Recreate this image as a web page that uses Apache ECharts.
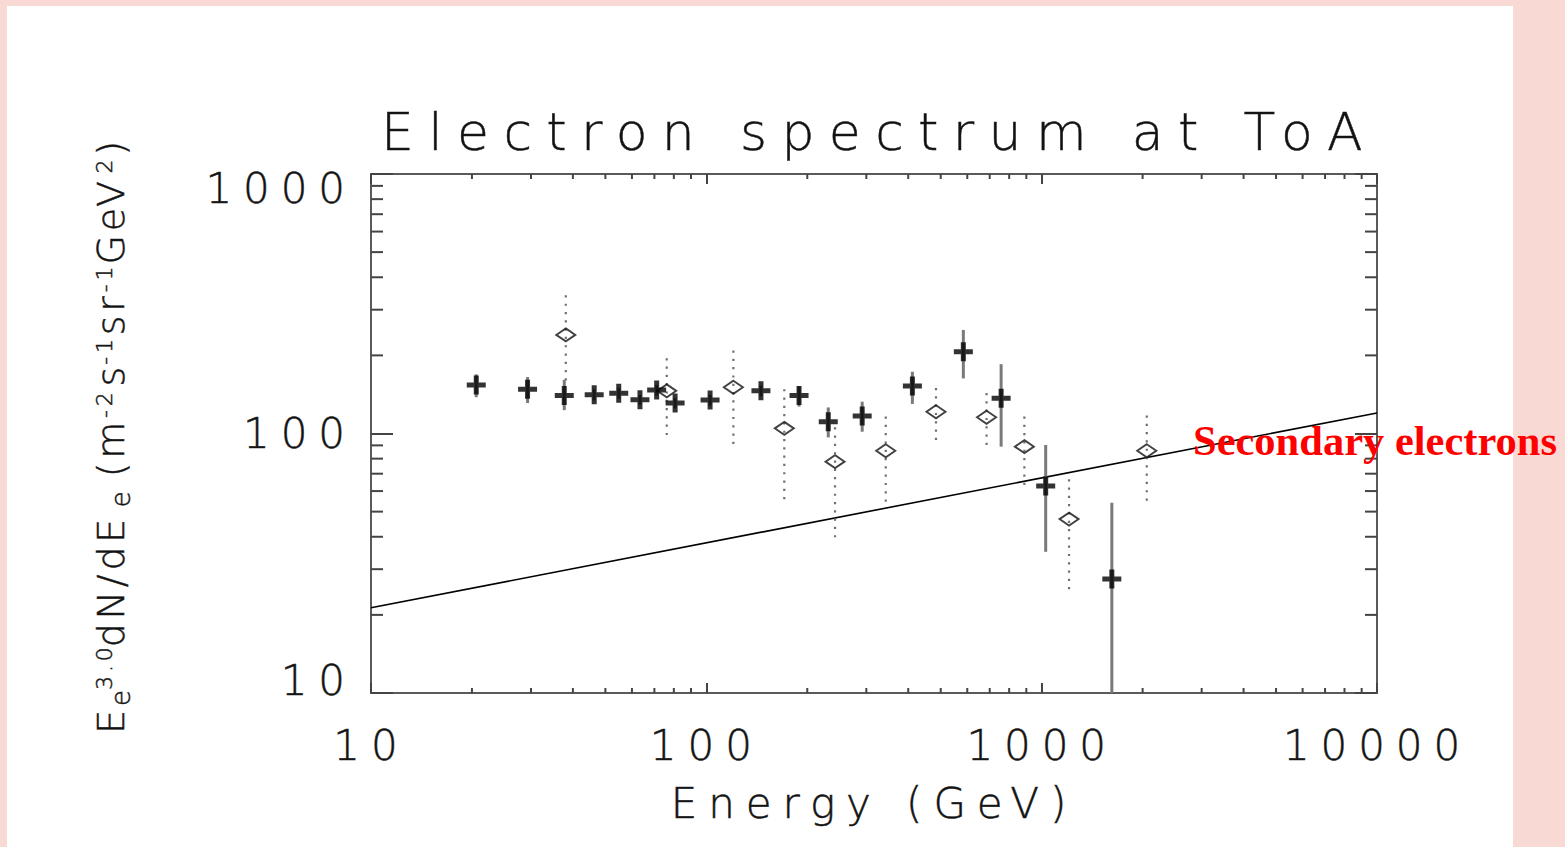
<!DOCTYPE html>
<html>
<head>
<meta charset="utf-8">
<title>Electron spectrum at ToA</title>
<script src="https://cdn.jsdelivr.net/npm/echarts@6/dist/echarts.min.js"></script>
<style>
  html, body { margin: 0; padding: 0; background: #f8d9d3; }
  #chart { width: 1565px; height: 847px; }
  /* wide, plotter-style tracking and slightly heavier strokes for the axis lettering */
  #chart text { letter-spacing: 0.26em; }
  #chart text[style*="DejaVu"] { stroke: #222; stroke-width: 0.5px; }
  #chart text[style*="52px"] { letter-spacing: 0.276em; }
  #chart text[style*="Noto"] { letter-spacing: 3.8px; }
  #chart text[style*="Serif"] { letter-spacing: 0; }
</style>
</head>
<body>
<div id="chart"></div>
<script>
// ---- text ----
const TITLE = 'Electron spectrum at ToA';
const X_NAME = 'Energy (GeV)';
const X_TICK_LABELS = ['10', '100', '1000', '10000'];
const Y_TICK_LABELS = ['10', '100', '1000'];
const SECONDARY_LABEL = 'Secondary electrons';

// ---- axis ranges ----
const X_MIN = 10, X_MAX = 10000;
const Y_MIN = 10, Y_MAX = 1000;

// ---- solid crosses (energy in GeV, E^3 dN/dE and its error range) ----
const crossEnergy = [20.6, 29.3, 37.7, 46.3, 54.8, 63.4, 71.1, 80.7, 102.6, 145.5, 189, 231, 291.6, 411.6, 584, 757, 1028, 1619];
const crossFlux   = [153.8, 148, 140, 141, 143, 135, 147, 131, 134.6, 146, 140, 111, 116.8, 152.4, 206.5, 136.6, 62.8, 27.5];
const crossLow    = [138, 131, 123, 134, 136, 129, 140, 125, 128, 139, 127, 96.6, 101.6, 130, 163, 89, 35, 10];
const crossHigh   = [169, 165, 161, 148, 150, 141, 154, 137, 141, 153, 152, 126, 132.6, 173, 250.6, 185, 90.3, 54.1];

// ---- open diamonds ----
const diamondEnergy = [38.1, 76.2, 120.4, 170.8, 242, 342.8, 484, 685, 888, 1207, 2058];
const diamondFlux   = [239.8, 146, 150.7, 104.7, 77.9, 85.8, 121.3, 115.5, 89, 46.8, 85.8];
const diamondLow    = [160, 98.6, 91.1, 55.8, 39.8, 54.6, 94.4, 90.3, 63.3, 25.1, 55.1];
const diamondHigh   = [346.7, 197.7, 209.8, 153.8, 107.8, 118.6, 151.5, 145, 116.8, 69.2, 118.9];

// ---- secondary electron power law ----
const secondaryEnergy = [10, 10000];
const secondaryFlux   = [21.3, 120];

// ---- styling ----
const PINK = '#f8d9d3';
const INK = '#111';
const PLOT_FONT = "'DejaVu Sans'";
const NAME_FONT = "'DejaVu Sans', 'Noto Sans'";
const LS = 3.8; // px tracking used for the y-axis title
const AXIS_COLOR = '#5a5a5a';

// log-axis minor tick values (2..9 of each decade)
function minorTicks(lo, hi) {
  const t = [];
  for (let d = lo; d < hi; d *= 10) for (let k = 2; k <= 9; k++) t.push(k * d);
  return t;
}
const X_MINOR = minorTicks(X_MIN, X_MAX);
const Y_MINOR = minorTicks(Y_MIN, Y_MAX);

const chart = echarts.init(document.getElementById('chart'), null, { renderer: 'svg' });

const labelFont = { fontFamily: PLOT_FONT, fontWeight: 200, fontSize: 42, color: INK };

function richName(size, n, padTop, padBottom, padLeft) {
  return {
    fontFamily: NAME_FONT, fontWeight: 200, fontSize: size, color: INK,
    lineHeight: size + 2,
    padding: [padTop || 0, n * LS, padBottom || 0, padLeft || 0]
  };
}

const yName =
  '{b1|E}{s1|e}{p3|3.0}{b5|dN/dE}{s1|e}{bp2|(m}{p2|-2}{b1|s}{p2|-1}{b2|sr}{p2|-1}{b3|GeV}{p1|2}{b1|)}';

function errorBars(energy, low, high, lineStyle) {
  return {
    type: 'custom',
    silent: true,
    z: 3,
    data: energy.map((e, i) => [e, low[i], high[i]]),
    encode: { x: 0, y: [1, 2] },
    renderItem: (params, api) => {
      const a = api.coord([api.value(0), api.value(1)]);
      const b = api.coord([api.value(0), api.value(2)]);
      return {
        type: 'line',
        shape: { x1: a[0], y1: a[1], x2: b[0], y2: b[1] },
        style: Object.assign({ fill: null }, lineStyle)
      };
    }
  };
}

const tickStyle = { stroke: '#444', lineWidth: 2 };

const option = {
  backgroundColor: '#ffffff',
  animation: false,
  title: {
    text: TITLE,
    left: 874,
    top: 101,
    textAlign: 'center',
    textStyle: { fontFamily: PLOT_FONT, fontWeight: 200, fontSize: 52, color: INK }
  },
  grid: { left: 371, top: 174, width: 1006, height: 519, containLabel: false },
  xAxis: [
    {
      type: 'log', logBase: 10, min: X_MIN, max: X_MAX, position: 'bottom',
      axisLine: { show: true, lineStyle: { color: AXIS_COLOR, width: 2 } },
      axisTick: { show: true, inside: true, length: 10, lineStyle: { color: '#444', width: 2 } },
      splitLine: { show: false },
      axisLabel: Object.assign({
        margin: 31,
        formatter: v => X_TICK_LABELS[Math.round(Math.log10(v)) - 1]
      }, labelFont),
      name: X_NAME,
      nameLocation: 'middle',
      nameGap: 89,
      nameTextStyle: { fontFamily: PLOT_FONT, fontWeight: 200, fontSize: 42, color: INK }
    },
    {
      type: 'log', logBase: 10, min: X_MIN, max: X_MAX, position: 'top',
      axisLine: { show: true, lineStyle: { color: AXIS_COLOR, width: 2 } },
      axisTick: { show: true, inside: true, length: 10, lineStyle: { color: '#444', width: 2 } },
      splitLine: { show: false },
      axisLabel: { show: false }
    }
  ],
  yAxis: [
    {
      type: 'log', logBase: 10, min: Y_MIN, max: Y_MAX, position: 'left',
      axisLine: { show: true, lineStyle: { color: AXIS_COLOR, width: 2 } },
      axisTick: { show: true, inside: true, length: 22, lineStyle: { color: '#444', width: 2 } },
      splitLine: { show: false },
      axisLabel: Object.assign({
        margin: 15,
        formatter: v => {
          const i = Math.round(Math.log10(v)) - 1;
          const key = i === 0 ? 'lo' : (i === Y_TICK_LABELS.length - 1 ? 'hi' : 'mid');
          return '{' + key + '|' + Y_TICK_LABELS[i] + '}';
        },
        rich: {
          hi: Object.assign({ padding: [28, 0, 0, 0] }, labelFont),
          mid: Object.assign({}, labelFont),
          lo: Object.assign({ padding: [0, 0, 26, 0] }, labelFont)
        }
      }, labelFont),
      name: yName,
      nameLocation: 'middle',
      nameGap: 240,
      nameTextStyle: {
        fontFamily: NAME_FONT, fontWeight: 200, fontSize: 38, color: INK,
        rich: {
          b1: richName(38, 1), b2: richName(38, 2), b3: richName(38, 3), b5: richName(38, 5),
          bp2: richName(38, 2, 0, 0, 12),
          s1: richName(26, 1, 20, 0),
          p1: richName(22, 1, 0, 14), p2: richName(22, 2, 0, 14), p3: richName(22, 3, 0, 14)
        }
      }
    },
    {
      type: 'log', logBase: 10, min: Y_MIN, max: Y_MAX, position: 'right',
      axisLine: { show: true, lineStyle: { color: AXIS_COLOR, width: 2 } },
      axisTick: { show: true, inside: true, length: 22, lineStyle: { color: '#444', width: 2 } },
      splitLine: { show: false },
      axisLabel: { show: false }
    }
  ],
  series: [
    // minor ticks along the bottom and top edges
    {
      type: 'custom', silent: true, z: 1,
      data: X_MINOR.map(v => [v, Y_MIN]),
      encode: { x: 0, y: 1 },
      renderItem: (params, api) => {
        const b = api.coord([api.value(0), Y_MIN]);
        const t = api.coord([api.value(0), Y_MAX]);
        return {
          type: 'group',
          children: [
            { type: 'line', shape: { x1: b[0], y1: b[1], x2: b[0], y2: b[1] - 5 }, style: tickStyle },
            { type: 'line', shape: { x1: t[0], y1: t[1], x2: t[0], y2: t[1] + 5 }, style: tickStyle }
          ]
        };
      }
    },
    // minor ticks along the left and right edges
    {
      type: 'custom', silent: true, z: 1,
      data: Y_MINOR.map(v => [X_MIN, v]),
      encode: { x: 0, y: 1 },
      renderItem: (params, api) => {
        const l = api.coord([X_MIN, api.value(1)]);
        const r = api.coord([X_MAX, api.value(1)]);
        return {
          type: 'group',
          children: [
            { type: 'line', shape: { x1: l[0], y1: l[1], x2: l[0] + 12, y2: l[1] }, style: tickStyle },
            { type: 'line', shape: { x1: r[0], y1: r[1], x2: r[0] - 12, y2: r[1] }, style: tickStyle }
          ]
        };
      }
    },
    // secondary electrons
    {
      type: 'line',
      data: secondaryEnergy.map((e, i) => [e, secondaryFlux[i]]),
      symbol: 'none',
      silent: true,
      z: 2,
      lineStyle: { color: '#000', width: 1.6 }
    },
    errorBars(diamondEnergy, diamondLow, diamondHigh, { stroke: '#707070', lineWidth: 2.2, lineDash: [2.2, 6.1] }),
    errorBars(crossEnergy, crossLow, crossHigh, { stroke: '#7a7a7a', lineWidth: 3 }),
    {
      type: 'scatter',
      data: diamondEnergy.map((e, i) => [e, diamondFlux[i]]),
      symbol: 'diamond',
      symbolSize: [19, 13],
      z: 5,
      itemStyle: { color: 'rgba(0,0,0,0)', borderColor: '#111', borderWidth: 2 }
    },
    {
      type: 'scatter',
      data: crossEnergy.map((e, i) => [e, crossFlux[i]]),
      symbol: 'path://M7 0H12V7H19V12H12V19H7V12H0V7H7Z',
      symbolSize: 19,
      z: 6,
      itemStyle: { color: '#000' }
    }
  ],
  graphic: [
    { type: 'rect', silent: true, left: 0, top: 0, shape: { width: 7, height: 847 }, style: { fill: PINK } },
    { type: 'rect', silent: true, left: 0, top: 0, shape: { width: 1565, height: 6 }, style: { fill: PINK } },
    { type: 'rect', silent: true, left: 1513, top: 0, shape: { width: 52, height: 847 }, style: { fill: PINK } },
    {
      type: 'text', silent: true, left: 1193, top: 419, z: 100,
      style: { text: SECONDARY_LABEL, fill: '#ff0000', font: "bold 42.5px 'Liberation Serif'" }
    }
  ]
};

chart.setOption(option);
</script>
</body>
</html>
